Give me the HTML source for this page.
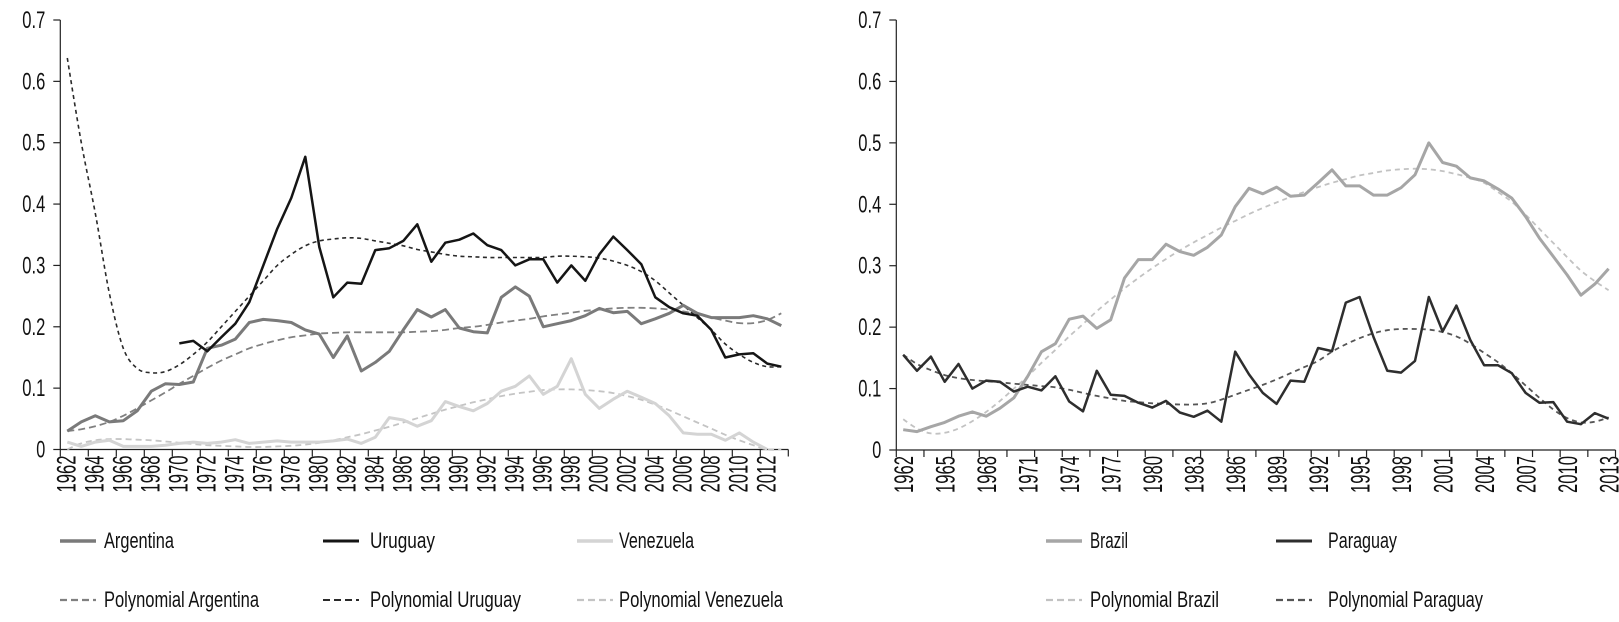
<!DOCTYPE html>
<html><head><meta charset="utf-8"><style>
html,body{margin:0;padding:0;background:#fff;}
svg{display:block;font-family:"Liberation Sans Narrow","Liberation Sans",sans-serif;}
</style></head><body>
<svg id="svg" width="1619" height="622" viewBox="0 0 1619 622" xmlns="http://www.w3.org/2000/svg">
<g id="left"></g>
<g id="right"></g>
</svg>
<script>
const years = []; for (let y = 1962; y <= 2013; y++) years.push(y);
const yTicks = [0, 0.1, 0.2, 0.3, 0.4, 0.5, 0.6, 0.7];
const yTickLabels = ["0", "0.1", "0.2", "0.3", "0.4", "0.5", "0.6", "0.7"];

const argentina = [0.03,0.045,0.055,0.045,0.047,0.063,0.095,0.107,0.106,0.11,0.165,0.17,0.18,0.207,0.212,0.21,0.207,0.195,0.188,0.15,0.185,0.128,0.142,0.16,0.195,0.228,0.216,0.228,0.198,0.192,0.19,0.248,0.265,0.25,0.2,0.205,0.21,0.218,0.23,0.223,0.225,0.205,0.213,0.222,0.235,0.222,0.215,0.215,0.215,0.218,0.213,0.202];
const uruguay = [null,null,null,null,null,null,null,null,0.173,0.177,0.16,0.183,0.205,0.24,0.3,0.36,0.41,0.477,0.33,0.248,0.272,0.27,0.325,0.328,0.34,0.367,0.306,0.337,0.342,0.352,0.333,0.325,0.3,0.31,0.31,0.272,0.3,0.275,0.318,0.347,0.325,0.302,0.248,0.232,0.222,0.218,0.195,0.15,0.155,0.157,0.14,0.135];
const venezuela = [0.012,0.005,0.012,0.015,0.005,0.005,0.005,0.007,0.01,0.012,0.01,0.012,0.016,0.01,0.012,0.014,0.012,0.012,0.012,0.014,0.017,0.01,0.02,0.052,0.048,0.038,0.047,0.078,0.07,0.063,0.075,0.095,0.103,0.12,0.09,0.103,0.148,0.09,0.067,0.082,0.095,0.085,0.075,0.055,0.027,0.025,0.025,0.015,0.027,0.012,0.0,null];
const polyArgentina = [0.03,0.033,0.038,0.045,0.055,0.067,0.08,0.093,0.107,0.12,0.133,0.145,0.155,0.165,0.172,0.178,0.183,0.186,0.189,0.19,0.191,0.191,0.191,0.191,0.191,0.192,0.193,0.195,0.198,0.2,0.203,0.207,0.21,0.213,0.217,0.22,0.223,0.226,0.228,0.23,0.231,0.231,0.23,0.228,0.225,0.22,0.215,0.21,0.206,0.206,0.211,0.222];
const polyUruguay = [0.638,0.5,0.385,0.255,0.165,0.132,0.125,0.127,0.138,0.155,0.175,0.2,0.225,0.25,0.275,0.3,0.318,0.332,0.34,0.343,0.345,0.344,0.34,0.336,0.332,0.326,0.322,0.318,0.315,0.314,0.313,0.313,0.313,0.313,0.313,0.315,0.315,0.314,0.312,0.307,0.3,0.29,0.275,0.255,0.235,0.215,0.195,0.172,0.155,0.142,0.135,0.135];
const polyVenezuela = [0.0,0.01,0.015,0.017,0.017,0.016,0.015,0.013,0.011,0.009,0.007,0.006,0.005,0.004,0.004,0.005,0.006,0.008,0.011,0.015,0.02,0.025,0.031,0.037,0.044,0.051,0.058,0.065,0.071,0.077,0.082,0.087,0.091,0.094,0.097,0.098,0.098,0.097,0.095,0.092,0.087,0.081,0.073,0.064,0.054,0.044,0.034,0.024,0.015,0.007,0.0,0.0];

const brazil = [0.033,0.03,0.038,0.045,0.055,0.062,0.055,0.068,0.085,0.12,0.16,0.173,0.213,0.218,0.198,0.212,0.28,0.31,0.31,0.335,0.323,0.317,0.33,0.35,0.396,0.426,0.417,0.428,0.413,0.415,0.435,0.456,0.43,0.43,0.415,0.415,0.427,0.448,0.5,0.468,0.462,0.443,0.438,0.425,0.41,0.38,0.345,0.315,0.285,0.252,0.27,0.295];
const paraguay = [0.155,0.129,0.152,0.111,0.14,0.1,0.113,0.111,0.095,0.103,0.097,0.12,0.079,0.063,0.129,0.09,0.088,0.077,0.069,0.08,0.061,0.054,0.064,0.046,0.16,0.123,0.093,0.075,0.113,0.111,0.166,0.161,0.24,0.249,0.184,0.129,0.126,0.145,0.249,0.193,0.235,0.179,0.138,0.138,0.125,0.093,0.077,0.078,0.046,0.042,0.06,0.051];
const polyBrazil = [0.05,0.035,0.027,0.028,0.035,0.047,0.062,0.08,0.1,0.12,0.142,0.163,0.185,0.205,0.226,0.245,0.263,0.28,0.296,0.311,0.325,0.338,0.35,0.362,0.373,0.384,0.394,0.403,0.412,0.42,0.428,0.435,0.441,0.447,0.451,0.455,0.457,0.458,0.457,0.454,0.449,0.443,0.435,0.42,0.404,0.383,0.36,0.337,0.314,0.292,0.275,0.26];
const polyParaguay = [0.155,0.14,0.13,0.122,0.117,0.114,0.112,0.11,0.108,0.106,0.104,0.102,0.098,0.093,0.088,0.084,0.08,0.078,0.076,0.075,0.074,0.074,0.076,0.082,0.09,0.098,0.106,0.115,0.125,0.135,0.145,0.16,0.172,0.182,0.19,0.195,0.197,0.197,0.196,0.192,0.185,0.173,0.158,0.143,0.125,0.105,0.085,0.066,0.052,0.045,0.046,0.053];

const NS = "http://www.w3.org/2000/svg";
function mk(parent, tag, attrs, text) {
  const e = document.createElementNS(NS, tag);
  for (const k in attrs) e.setAttribute(k, attrs[k]);
  if (text !== undefined) e.textContent = text;
  parent.appendChild(e);
  return e;
}

function buildChart(g, cfg) {
  const n = years.length;
  const step = (cfg.x1 - cfg.x0) / n;
  const xs = i => cfg.x0 + step * (i + 0.5);
  const ys = v => cfg.yBase - v * (cfg.yBase - cfg.yTop) / 0.7;

  // y axis
  const ya = mk(g, "line", {x1: cfg.x0, y1: cfg.yTop, x2: cfg.x0, y2: cfg.yBase, stroke: "#222", "stroke-width": 1.2});
  
  
  yTicks.forEach((t, k) => {
    const tk = mk(g, "line", {x1: cfg.x0 - 7, y1: ys(t), x2: cfg.x0, y2: ys(t), stroke: "#222", "stroke-width": 1.2});
    
    
    const lab = yTickLabels[k];
    const tx = mk(g, "text", {x: cfg.x0 - 15, y: ys(t) + 8, "text-anchor": "end", "font-size": 24, fill: "#111",
      textLength: lab.length === 1 ? 9 : 23, lengthAdjust: "spacingAndGlyphs"}, lab);
    
    
  });
  // x axis
  const xa = mk(g, "line", {x1: cfg.x0, y1: cfg.yBase, x2: cfg.x1, y2: cfg.yBase, stroke: "#222", "stroke-width": 1.2});
  
  
  for (let i = 0; i <= n; i += 2) {
    const tk = mk(g, "line", {x1: cfg.x0 + step * i, y1: cfg.yBase, x2: cfg.x0 + step * i, y2: cfg.yBase + 7, stroke: "#222", "stroke-width": 1.2});
    
    
  }
  for (let i = 0; i < n; i += cfg.labelEvery) {
    const bx = xs(i) + cfg.labelShift;
    const by = cfg.yBase + 6;
    const tx = mk(g, "text", {x: bx, y: by, transform: `rotate(-90 ${bx} ${by})`, "text-anchor": "end", "font-size": 27, fill: "#111",
      textLength: 37, lengthAdjust: "spacingAndGlyphs"}, String(years[i]));
    
    
  }

  // series
  cfg.series.forEach(s => {
    let segs = [], cur = [];
    s.data.forEach((v, i) => {
      if (v === null) { if (cur.length) segs.push(cur); cur = []; }
      else cur.push([xs(i), ys(v)]);
    });
    if (cur.length) segs.push(cur);
    let d = "";
    segs.forEach(pts => {
      d += "M" + pts[0][0].toFixed(1) + "," + pts[0][1].toFixed(1);
      if (s.smooth) {
        for (let i = 0; i < pts.length - 1; i++) {
          const p0 = pts[Math.max(0, i - 1)], p1 = pts[i], p2 = pts[i + 1], p3 = pts[Math.min(pts.length - 1, i + 2)];
          const c1x = p1[0] + (p2[0] - p0[0]) / 6, c1y = p1[1] + (p2[1] - p0[1]) / 6;
          const c2x = p2[0] - (p3[0] - p1[0]) / 6, c2y = p2[1] - (p3[1] - p1[1]) / 6;
          d += `C${c1x.toFixed(1)},${c1y.toFixed(1)} ${c2x.toFixed(1)},${c2y.toFixed(1)} ${p2[0].toFixed(1)},${p2[1].toFixed(1)}`;
        }
      } else {
        for (let i = 1; i < pts.length; i++) d += "L" + pts[i][0].toFixed(1) + "," + pts[i][1].toFixed(1);
      }
    });
    const p = mk(g, "path", {d: d, fill: "none", stroke: s.color, "stroke-width": s.w, "stroke-linejoin": "round"});
    if (s.dash) p.setAttribute("stroke-dasharray", s.dash);
    
    
  });

  // legend
  cfg.series.forEach(s => {
    const L = s.leg;
    const ln = mk(g, "line", {x1: L.lx, y1: L.y - 7, x2: L.lx + 36, y2: L.y - 7, stroke: s.color, "stroke-width": s.w + 0.5});
    if (s.dash) ln.setAttribute("stroke-dasharray", "7,4");
    
    
    const tx = mk(g, "text", {x: L.tx, y: L.y, "font-size": 22, fill: "#111", textLength: L.tw, lengthAdjust: "spacingAndGlyphs"}, L.label);
    
    
  });
}

buildChart(document.getElementById("left"), {
  x0: 60.3, x1: 788.3, yTop: 20, yBase: 449.5, labelEvery: 2, labelShift: 8,
  series: [
    {name: "poly-argentina-line", data: polyArgentina, color: "#808080", w: 1.8, dash: "7,4", smooth: true, leg: {lx: 60, tx: 104, tw: 155, y: 607, label: "Polynomial Argentina"}},
    {name: "poly-venezuela-line", data: polyVenezuela, color: "#c4c4c4", w: 1.8, dash: "6,4", smooth: true, leg: {lx: 577, tx: 619, tw: 164, y: 607, label: "Polynomial Venezuela"}},
    {name: "poly-uruguay-line", data: polyUruguay, color: "#2a2a2a", w: 1.6, dash: "4,3.5", smooth: true, leg: {lx: 323, tx: 370, tw: 151, y: 607, label: "Polynomial Uruguay"}},
    {name: "venezuela-line", data: venezuela, color: "#d4d4d4", w: 3, leg: {lx: 577, tx: 619, tw: 75, y: 548, label: "Venezuela"}},
    {name: "argentina-line", data: argentina, color: "#7a7a7a", w: 3, leg: {lx: 60, tx: 104, tw: 70, y: 548, label: "Argentina"}},
    {name: "uruguay-line", data: uruguay, color: "#151515", w: 2.5, leg: {lx: 323, tx: 370, tw: 65, y: 548, label: "Uruguay"}}
  ]
});

buildChart(document.getElementById("right"), {
  x0: 896.3, x1: 1615.5, yTop: 20, yBase: 450, labelEvery: 3, labelShift: 10,
  series: [
    {name: "poly-brazil-line", data: polyBrazil, color: "#c2c2c2", w: 1.8, dash: "5,4", smooth: true, leg: {lx: 1046, tx: 1090, tw: 129, y: 607, label: "Polynomial Brazil"}},
    {name: "poly-paraguay-line", data: polyParaguay, color: "#555555", w: 1.8, dash: "5,4", smooth: true, leg: {lx: 1276, tx: 1328, tw: 155, y: 607, label: "Polynomial Paraguay"}},
    {name: "brazil-line", data: brazil, color: "#a6a6a6", w: 3, leg: {lx: 1046, tx: 1090, tw: 38, y: 548, label: "Brazil"}},
    {name: "paraguay-line", data: paraguay, color: "#2e2e2e", w: 2.5, leg: {lx: 1276, tx: 1328, tw: 69, y: 548, label: "Paraguay"}}
  ]
});
</script>
</body></html>
